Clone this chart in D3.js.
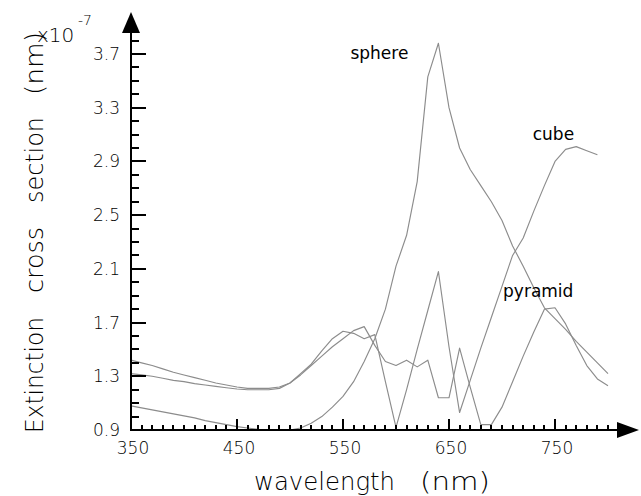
<!DOCTYPE html>
<html>
<head>
<meta charset="utf-8">
<script src="https://cdn.jsdelivr.net/npm/d3@7"></script>
<style>
  html, body { margin: 0; padding: 0; background: #fff; }
  svg { display: block; }
  text { font-family: "DejaVu Sans", "Liberation Sans", sans-serif; fill: #000; }
</style>
</head>
<body>
<svg id="chart" width="641" height="496"></svg>
<script>
// ---- data ----
const sphereWl = d3.range(350, 801, 10);
const sphereVal = [1.08, 1.065, 1.05, 1.035, 1.02, 1.005, 0.99, 0.97, 0.955, 0.94,
  0.925, 0.915, 0.905, 0.90, 0.90, 0.90, 0.915, 0.95, 1.00, 1.07,
  1.15, 1.26, 1.41, 1.58, 1.80, 2.12, 2.35, 2.75, 3.53, 3.78,
  3.30, 3.00, 2.84, 2.72, 2.60, 2.46, 2.27, 2.12, 1.96, 1.81,
  1.73, 1.65, 1.56, 1.48, 1.40, 1.32];

const cubeWl = d3.range(350, 791, 10);
const cubeVal = [1.42, 1.40, 1.38, 1.355, 1.33, 1.31, 1.29, 1.27, 1.25, 1.235,
  1.22, 1.21, 1.21, 1.21, 1.22, 1.25, 1.32, 1.39, 1.49, 1.58,
  1.635, 1.62, 1.58, 1.61, 1.26, 0.92, 1.20, 1.50, 1.79, 2.08,
  1.52, 1.03, 1.27, 1.51, 1.74, 1.97, 2.20, 2.33, 2.53, 2.72,
  2.90, 2.99, 3.01, 2.98, 2.95];

const pyramidWl = d3.range(350, 801, 10);
const pyramidVal = [1.32, 1.31, 1.30, 1.285, 1.27, 1.26, 1.245, 1.235, 1.225, 1.215,
  1.205, 1.20, 1.20, 1.20, 1.21, 1.25, 1.31, 1.38, 1.45, 1.52,
  1.58, 1.64, 1.67, 1.53, 1.41, 1.38, 1.42, 1.37, 1.42, 1.14,
  1.14, 1.51, 1.22, 0.94, 0.94, 1.07, 1.26, 1.45, 1.63, 1.80,
  1.81, 1.69, 1.53, 1.38, 1.28, 1.23];

const seriesNames = ["sphere", "cube", "pyramid"];
// label anchors in data units (wavelength, value)
const labelWl = [557, 729, 701];
const labelVal = [3.66, 3.06, 1.89];

const xMajorTicks = [350, 450, 550, 650, 750];
const xMinorTicks = d3.range(360, 801, 10);
const yMajorTicks = [0.9, 1.3, 1.7, 2.1, 2.5, 2.9, 3.3, 3.7];
const yMinorTicks = d3.range(10, 39, 1).map(v => v / 10);

const xTitle = ["wavelength", "(nm)"];
const yTitle = ["Extinction", "cross", "section", "(nm)"];
const yExponent = ["x10", "-7"];

// ---- scales ----
const x = d3.scaleLinear().domain([350, 800]).range([131, 608]);
const y = d3.scaleLinear().domain([0.9, 3.7]).range([430, 54]);
const X0 = 131, Y0 = 430;

const svg = d3.select("#chart");

// ---- curves ----
const line = d3.line().x(d => x(d[0])).y(d => y(d[1]));
const series = [
  d3.zip(sphereWl, sphereVal),
  d3.zip(cubeWl, cubeVal),
  d3.zip(pyramidWl, pyramidVal)
];
svg.append("g").selectAll("path").data(series).join("path")
  .attr("d", line)
  .attr("fill", "none")
  .attr("stroke", "#8c8c8c")
  .attr("stroke-width", 1.15)
  .attr("stroke-linejoin", "round");

// ---- axis ticks (inward) as filled rectangles ----
const tg = svg.append("g").attr("fill", "#000");
tg.append("g").selectAll("rect").data(xMinorTicks).join("rect")
  .attr("x", d => Math.round(x(d)) - 1).attr("y", Y0 - 5).attr("width", 2).attr("height", 5);
tg.append("g").selectAll("rect").data(xMajorTicks.slice(1)).join("rect")
  .attr("x", d => Math.round(x(d)) - 1).attr("y", Y0 - 11).attr("width", 2).attr("height", 11);
tg.append("g").selectAll("rect").data(yMinorTicks).join("rect")
  .attr("x", X0).attr("y", d => Math.round(y(d)) - 1).attr("width", 8).attr("height", 2);
tg.append("g").selectAll("rect").data(yMajorTicks.slice(1)).join("rect")
  .attr("x", X0).attr("y", d => Math.round(y(d)) - 1).attr("width", 15).attr("height", 2);

// axis lines and arrows
svg.append("rect").attr("x", X0 - 1).attr("y", Y0 - 1).attr("width", 618 - X0).attr("height", 2).attr("fill", "#000");
svg.append("rect").attr("x", X0 - 1).attr("y", 32).attr("width", 2).attr("height", Y0 - 31).attr("fill", "#000");
svg.append("path").attr("d", `M${X0},12L${X0 - 9},33L${X0 + 9},33Z`).attr("fill", "#000");
svg.append("path").attr("d", `M639,${Y0}L617,${Y0 - 8}L617,${Y0 + 8}Z`).attr("fill", "#000");

// tick labels
svg.append("g").selectAll("text").data(xMajorTicks).join("text")
  .attr("x", d => x(d) + 2).attr("y", Y0 + 24)
  .attr("text-anchor", "middle").attr("font-size", 17).attr("font-weight", 200)
  .text(d => d);
svg.append("g").selectAll("text").data(yMajorTicks).join("text")
  .attr("x", X0 - 11).attr("y", d => y(d) + 6)
  .attr("text-anchor", "end").attr("font-size", 17).attr("font-weight", 200)
  .text(d => d.toFixed(1));

// series labels
svg.append("g").selectAll("text").data(seriesNames).join("text")
  .attr("x", (d, i) => x(labelWl[i])).attr("y", (d, i) => y(labelVal[i]))
  .attr("font-size", 17)
  .text(d => d);

// x title
svg.append("text").attr("x", 254).attr("y", 490).attr("font-size", 25).attr("font-weight", 200)
  .attr("textLength", 141).attr("lengthAdjust", "spacingAndGlyphs").text(xTitle[0]);
svg.append("text").attr("x", 420).attr("y", 490).attr("font-size", 25).attr("font-weight", 200)
  .attr("textLength", 70).attr("lengthAdjust", "spacingAndGlyphs").text(xTitle[1]);

// y title (rotated, words positioned along the axis)
const yWordStart = [433, 293, 203, 95];
const yWordLen = [116, 66, 86, 63];
yTitle.forEach((w, i) => {
  svg.append("text")
    .attr("transform", `translate(43,${yWordStart[i]}) rotate(-90)`)
    .attr("font-size", 25).attr("font-weight", 200)
    .attr("textLength", yWordLen[i]).attr("lengthAdjust", "spacingAndGlyphs")
    .text(w);
});

// exponent
svg.append("text").attr("x", 37).attr("y", 42).attr("font-size", 20).attr("font-weight", 200).text(yExponent[0]);
svg.append("text").attr("x", 78).attr("y", 25).attr("font-size", 14).attr("font-weight", 200).text(yExponent[1]);
</script>
</body>
</html>
